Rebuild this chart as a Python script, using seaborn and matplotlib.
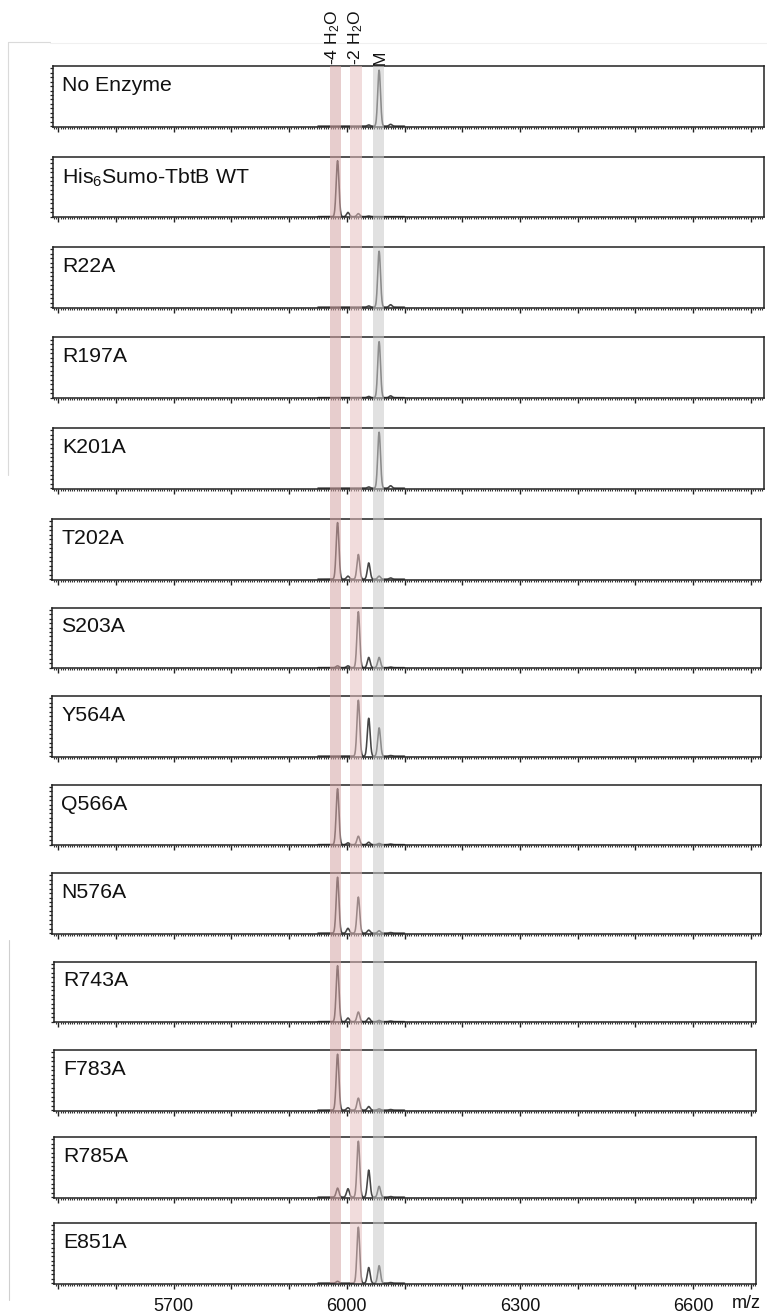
import numpy as np
import pandas as pd
import matplotlib
matplotlib.use("Agg")
import matplotlib.pyplot as plt
import seaborn as sns
from matplotlib.ticker import MultipleLocator, FuncFormatter
from matplotlib.lines import Line2D

# ---------------- data ----------------
samples = ["No Enzyme", "His$_6$Sumo-TbtB WT", "R22A", "R197A", "K201A",
           "T202A", "S203A", "Y564A", "Q566A", "N576A",
           "R743A", "F783A", "R785A", "E851A"]

# peak m/z positions: -4 H2O, -3 H2O, -2 H2O, -1 H2O, M, adduct
peak_mz = [5984, 6002, 6020, 6038, 6056, 6076]

# relative intensities (fraction of panel height) per sample
heights_m4 = [0.00, 0.93, 0.00, 0.00, 0.00, 0.94, 0.03, 0.00, 0.93, 0.93, 0.93, 0.93, 0.15, 0.03]
heights_m3 = [0.00, 0.07, 0.00, 0.00, 0.00, 0.05, 0.03, 0.00, 0.03, 0.08, 0.06, 0.04, 0.14, 0.00]
heights_m2 = [0.00, 0.05, 0.00, 0.00, 0.00, 0.41, 0.93, 0.93, 0.14, 0.60, 0.16, 0.20, 0.93, 0.93]
heights_m1 = [0.02, 0.01, 0.02, 0.02, 0.02, 0.27, 0.17, 0.63, 0.04, 0.05, 0.06, 0.06, 0.45, 0.26]
heights_M  = [0.93, 0.00, 0.93, 0.93, 0.93, 0.05, 0.17, 0.47, 0.02, 0.04, 0.02, 0.02, 0.18, 0.29]
heights_ad = [0.03, 0.00, 0.04, 0.03, 0.04, 0.02, 0.01, 0.01, 0.01, 0.01, 0.01, 0.01, 0.01, 0.01]

band_labels = ["-4 H$_2$O", "-2 H$_2$O", "M"]
band_centers = [5980, 6016, 6055.5]
band_widths = [18.5, 21, 19]
band_colors = ["#d4a4a4", "#e6c0c0", "#c9c9c9"]

tick_label_values = [5700, 6000, 6300, 6600]

# ---------------- style ----------------
sns.set_theme(style="white")
plt.rcParams["font.family"] = ["Liberation Sans", "DejaVu Sans"]
plt.rcParams["mathtext.fontset"] = "custom"
plt.rcParams["mathtext.rm"] = "Liberation Sans"
plt.rcParams["mathtext.default"] = "regular"

W, H = 767, 1314
fig = plt.figure(figsize=(W / 100, H / 100), dpi=100)

# pixel mapping: 5500 -> 58.3 px, 100 units -> 57.7 px
PX0, PXSCALE = 58.3, 0.577
def px_to_mz(px):
    return 5500 + (px - PX0) / PXSCALE

tops = [66, 156.5, 247, 337.5, 428, 519, 607.5, 696, 784.5, 873, 961.5, 1050, 1137, 1223]
panel_h = 60.5
lefts = [53.3] * 5 + [52.3] * 5 + [54.0] * 4
rights = [764.0] * 5 + [760.7] * 5 + [755.7] * 4

line_color = "#454545"
spine_color = "#222222"

mz_grid = np.arange(5950, 6100.01, 0.5)
sigma = 2.4

for i, name in enumerate(samples):
    L, R, T = lefts[i], rights[i], tops[i]
    ax = fig.add_axes([L / W, 1 - (T + panel_h) / H, (R - L) / W, panel_h / H])
    hs = [heights_m4[i], heights_m3[i], heights_m2[i], heights_m1[i], heights_M[i], heights_ad[i]]
    inten = np.zeros_like(mz_grid)
    for c, h in zip(peak_mz, hs):
        inten = inten + h * np.exp(-0.5 * ((mz_grid - c) / sigma) ** 2)
    df = pd.DataFrame({"mz": mz_grid, "intensity": inten})
    sns.lineplot(data=df, x="mz", y="intensity", ax=ax, color=line_color,
                 linewidth=1.15, estimator=None)
    ax.set_xlim(px_to_mz(L), px_to_mz(R))
    ax.set_ylim(-0.006, 1.0)
    ax.set_xlabel("")
    ax.set_ylabel("")
    for s in ax.spines.values():
        s.set_color(spine_color)
        s.set_linewidth(1.1)
    ax.xaxis.set_major_locator(MultipleLocator(100))
    ax.xaxis.set_minor_locator(MultipleLocator(4))
    ax.yaxis.set_major_locator(MultipleLocator(0.074))
    ax.tick_params(axis="x", which="major", direction="out", length=3.6, width=1.0,
                   color=spine_color, bottom=True, top=False, pad=6.5,
                   labelsize=13, labelcolor="#111111")
    ax.tick_params(axis="x", which="minor", direction="out", length=1.6, width=0.8,
                   color="#333333", bottom=True, top=False)
    ax.tick_params(axis="y", which="major", direction="out", length=2.2, width=0.9,
                   color=spine_color, left=True, right=False, labelleft=False)
    if i == len(samples) - 1:
        ax.xaxis.set_major_formatter(FuncFormatter(
            lambda v, p: f"{int(round(v))}" if int(round(v)) in tick_label_values else ""))
    else:
        ax.tick_params(axis="x", labelbottom=False)
    ax.annotate(name, xy=(0, 1), xycoords="axes fraction",
                xytext=(6.6, -7.2), textcoords="offset points",
                ha="left", va="top", fontsize=15.3, color="#111111")

# overlay with the vertical bands
y_bot, y_top = 1283, 66
ov = fig.add_axes([0, 1 - y_bot / H, 1, (y_bot - y_top) / H], zorder=10)
ov.set_facecolor("none")
ov.set_xlim(px_to_mz(0), px_to_mz(W))
ov.set_ylim(0, 1)
ov.axis("off")
for c, w, col in zip(band_centers, band_widths, band_colors):
    ov.axvspan(c - w / 2, c + w / 2, color=col, alpha=0.54, linewidth=0)
label_x = [5976, 6015, 6057]
for lx, lab in zip(label_x, band_labels):
    ov.annotate(lab, xy=(lx, 1), xycoords="data", xytext=(0, 0.8),
                textcoords="offset points", rotation=90, ha="center", va="bottom",
                fontsize=12.6, color="#111111", annotation_clip=False)

# decorative gray lines at the left edge
fig.add_artist(Line2D([7.5 / W, 7.5 / W], [1 - 42 / H, 1 - 475 / H],
                      transform=fig.transFigure, color="#dadada", lw=0.8))
fig.add_artist(Line2D([7.5 / W, 50 / W], [1 - 42 / H, 1 - 42 / H],
                      transform=fig.transFigure, color="#dadada", lw=0.8))
fig.add_artist(Line2D([50 / W, 1], [1 - 43 / H, 1 - 43 / H],
                      transform=fig.transFigure, color="#f0f0f0", lw=0.8))
fig.add_artist(Line2D([8.5 / W, 8.5 / W], [1 - 940 / H, 1 - 1300 / H],
                      transform=fig.transFigure, color="#cfcfcf", lw=0.8))

fig.text(746 / W, 1 - 1303 / H, "m/z", ha="center", va="center",
         fontsize=13, color="#111111")

fig.savefig("out.png", dpi=100)
